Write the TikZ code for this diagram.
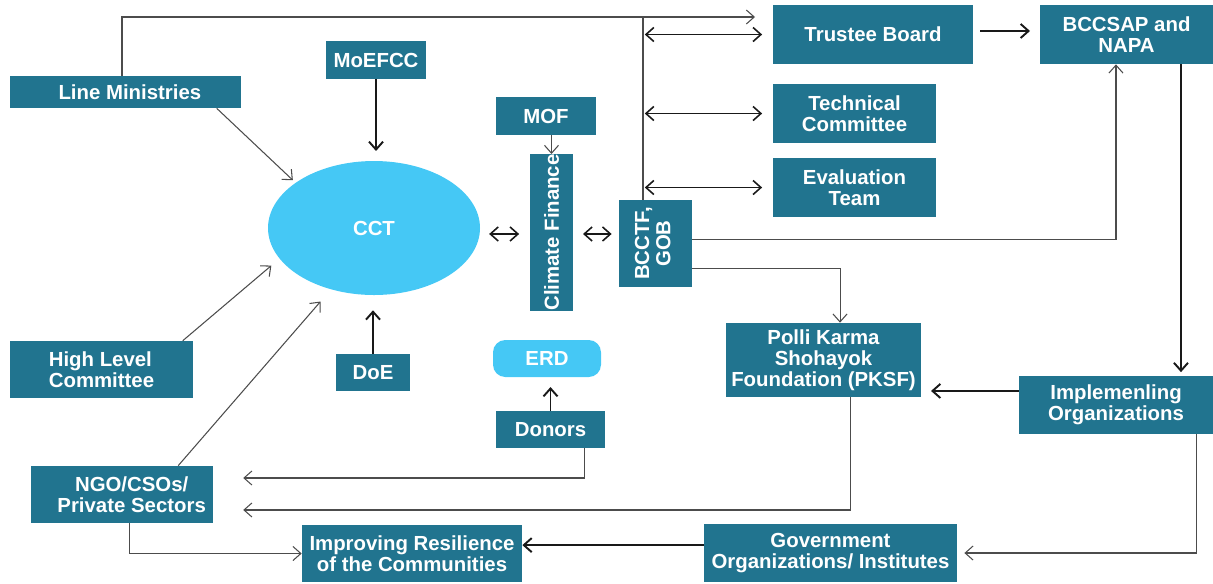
\documentclass[tikz,border=0pt]{standalone}
\usepackage{fontspec}
\setmainfont{Liberation Sans}
\usetikzlibrary{shapes.geometric,arrows.meta}
\definecolor{boxteal}{RGB}{33,116,143}
\definecolor{skyblue}{RGB}{69,200,245}
\tikzset{
  boxsize/.style 2 args={minimum width=#1*0.02cm, minimum height=#2*0.02cm},
  box/.style={fill=boxteal, text=white, align=center, inner sep=0pt,
    font=\bfseries\fontsize{11.6}{12}\selectfont},
  skybox/.style={box, fill=skyblue},
  barb/.tip={Straight Barb[length=4.5pt,width=8pt]},
  link/.style={draw=black!70, line width=0.6pt, -barb},
  boldlink/.style={draw=black!90, line width=1.1pt, -barb},
  dlink/.style={draw=black!90, line width=0.9pt, barb-barb}
}
\begin{document}
\begin{tikzpicture}[x=0.02cm,y=-0.02cm]
\useasboundingbox (0,0) rectangle (1213,583);
% Left column
\node[box, boxsize={231}{32}] (lm) at (125.5,92) {\hspace*{5pt}Line Ministries};
\node[box, boxsize={183}{57}, align=left] (hlc) at (101.5,369.5) {High Level\\Committee};
\node[box, boxsize={182}{57}] (ngo) at (122,494.5) {\hspace*{11pt}NGO/CSOs/\\\hspace*{11pt}Private Sectors};
% CCT and its neighbours
\node[skybox, ellipse, boxsize={212}{134}] (cct) at (374,228) {CCT};
\node[box, boxsize={100}{38}] (moefcc) at (376,60) {MoEFCC};
\node[box, boxsize={74}{37}] (doe) at (373,372.5) {DoE};
\node[box, boxsize={100}{38}] (mof) at (546,116) {MOF};
\node[box, boxsize={43}{155}] (cf) at (551.5,232.5) {\rotatebox{90}{Climate Finance}};
\node[box, boxsize={73}{87}] (bcctf) at (655.5,243.5)
  {\rotatebox{90}{\begin{tabular}{@{}c@{}}BCCTF,\\GOB\end{tabular}}};
\node[skybox, rounded corners=7pt, boxsize={108}{37}] (erd) at (547,358.5) {ERD};
\node[box, boxsize={109}{37}] (donors) at (550.5,429.5) {Donors};
% Right side
\node[box, boxsize={200}{59}] (trustee) at (873,34.5) {Trustee Board};
\node[box, boxsize={163}{59}] (tech) at (854.5,113.5) {Technical\\Committee};
\node[box, boxsize={163}{59}] (eval) at (854.5,187.5) {Evaluation\\Team};
\node[box, boxsize={173}{59}] (bccsap) at (1126.5,34.5) {BCCSAP and\\NAPA};
\node[box, boxsize={195}{74}] (pksf) at (823.5,360) {Polli Karma\\Shohayok\\Foundation (PKSF)};
\node[box, boxsize={194}{58}] (impl) at (1116,405) {Implemenling\\Organizations};
% Bottom row
\node[box, boxsize={220}{57}] (impr) at (412,553.5) {Improving Resilience\\of the Communities};
\node[box, boxsize={253}{58}] (gov) at (830.5,553) {Government\\Organizations/ Institutes};
% Top line and spine
\coordinate (tbarrow) at (755,17);
\coordinate (spine) at (643,17);
\draw[link] ([xshift=-2pt]lm.north) |- (tbarrow);
\draw[link, -] (spine) -- (spine |- bcctf.north);
\draw[dlink, shorten <=1pt, shorten >=6pt] (spine |- trustee.west) -- (trustee.west);
\draw[dlink, shorten <=1pt, shorten >=6pt] (spine |- tech.west) -- (tech.west);
\draw[dlink, shorten <=1pt, shorten >=6pt] (spine |- eval.west) -- (eval.west);
% Into CCT
\draw[link, shorten >=2pt] ([xshift=-14pt]lm.south east) -- (cct.150);
\draw[boldlink, shorten >=5.5pt] (moefcc.south) -- (moefcc.south |- cct.north);
\draw[boldlink, shorten >=8.5pt] (doe.north) -- (doe.north |- cct.south);
\draw[link, shorten >=6pt] ([xshift=-6pt]hlc.north east) -- (cct.198);
\draw[link, shorten >=9pt] ([xshift=-20pt]ngo.north east) -- (cct.235);
% Finance chain
\draw[link] (cf.north |- mof.south) -- (cf.north);
\draw[dlink, shorten <=5pt, shorten >=6pt] ([yshift=-3.4pt]cct.east) -- ([yshift=-3.4pt]cct.east -| cf.west);
\draw[dlink, shorten <=5.5pt, shorten >=4pt] ([yshift=-3.4pt]cct.east -| cf.east) -- ([yshift=-3.4pt]cct.east -| bcctf.west);
\draw[link] ([yshift=2.5pt]bcctf.east) -| ([xshift=-6pt]bccsap.south);
\draw[link] ([yshift=-14pt]bcctf.east) -| ([xshift=9.4pt]pksf.north);
\draw[boldlink, shorten <=4pt, shorten >=5.5pt] ([yshift=2pt]trustee.east) -- ([yshift=2pt]bccsap.west);
\draw[boldlink, shorten >=2pt] ([xshift=31pt]bccsap.south) -- ([xshift=31pt]bccsap.south |- impl.north);
\draw[boldlink, shorten >=5.5pt] ([yshift=8pt]impl.west) -- ([yshift=8pt]impl.west -| pksf.east);
\draw[link, shorten >=4pt] ([xshift=46pt]impl.south) |- (gov.east);
% Towards NGO and ERD
\draw[link, shorten >=17pt] ([xshift=15.6pt]pksf.south) |- ([yshift=-8.8pt]ngo.east);
\draw[link, shorten >=17pt] ([xshift=19.6pt]donors.south) |- ([yshift=9.4pt]ngo.east);
\draw[boldlink, shorten >=5.5pt] (donors.north) -- (donors.north |- erd.south);
% Bottom row
\draw[link] ([xshift=4.5pt]ngo.south) |- (impr.west);
\draw[boldlink] ([yshift=4.5pt]gov.west) -- ([yshift=4.5pt]gov.west -| impr.east);
\end{tikzpicture}
\end{document}
